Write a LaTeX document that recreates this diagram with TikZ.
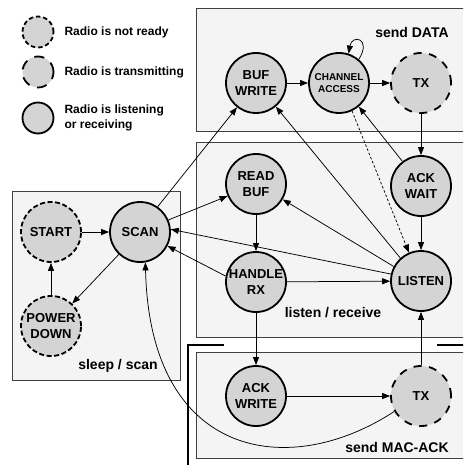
\documentclass[tikz,border=0pt]{standalone}
\usepackage{fontspec}
\setmainfont{Liberation Sans}
\usetikzlibrary{arrows.meta}
\definecolor{nodefill}{gray}{0.83}
\definecolor{boxfill}{gray}{0.955}
\definecolor{boxline}{gray}{0.25}

\begin{document}
\begin{tikzpicture}[x=1pt,y=-1pt,
  state/.style={circle, fill=nodefill, minimum size=60pt, inner sep=0pt,
    draw=black, line width=1.8pt, align=center,
    font=\bfseries\fontsize{13}{15.5}\selectfont},
  listening/.style={state},
  notready/.style={state, dash pattern=on 5pt off 2.6pt},
  transmit/.style={state, dash pattern=on 8pt off 7.5pt},
  smallstate/.style={minimum size=31pt},
  region/.style={draw=boxline, fill=boxfill, line width=0.8pt},
  regionlabel/.style={font=\bfseries\fontsize{14}{16}\selectfont},
  legendtext/.style={font=\bfseries\fontsize{12}{14.5}\selectfont, align=left, anchor=west},
  edge/.style={-{Triangle[length=8pt,width=6pt]}, line width=0.75pt},
]
\useasboundingbox (0,0) rectangle (463,465);
\clip (0,0) rectangle (463,465);

% regions
\path[region] (196,8) rectangle (470,131);
\path[region] (196,142) rectangle (470,337);
\path[region] (12,191) rectangle (180,380);
\path[region] (196,352) rectangle (470,458);
\draw[line width=2pt] (224,345) -- (188,345) -- (188,470);
\draw[line width=2pt] (437,345) -- (470,345);

% legend
\node[notready, smallstate, dash pattern=on 4.5pt off 2.8pt] (lg1) at (38,32) {};
\node[transmit, smallstate, dash pattern=on 10pt off 8pt] (lg2) at (38,72) {};
\node[listening, smallstate] (lg3) at (38,118) {};
\node[legendtext] (lt1) at (61,32) {Radio is not ready};
\node[legendtext] (lt2) at (61,72) {Radio is transmitting};
\node[legendtext] (lt3) at (61,118) {Radio is listening\\or receiving};

% states
\node[listening] (bw) at (256,83) {BUF\\WRITE};
\node[listening, font=\bfseries\fontsize{10}{12.5}\selectfont] (ca) at (339,83) {CHANNEL\\ACCESS};
\node[transmit] (txd) at (421,83) {TX};
\node[listening] (rb) at (256,184) {READ\\BUF};
\node[listening] (aw) at (421,186) {ACK\\WAIT};
\node[listening] (hr) at (256,282) {HANDLE\\RX};
\node[listening] (li) at (421,281) {LISTEN};
\node[notready] (st) at (51,232) {START};
\node[listening] (sc) at (140,232) {SCAN};
\node[notready] (pd) at (51,326) {POWER\\DOWN};
\node[listening] (ackw) at (256,396) {ACK\\WRITE};
\node[transmit] (txa) at (421,396) {TX};

% region labels
\node[regionlabel] (lbdata) at (412,32) {send DATA};
\node[regionlabel] (lbrecv) at (333,313) {listen / receive};
\node[regionlabel] (lbsleep) at (118,366) {sleep / scan};
\node[regionlabel] (lback) at (397,447) {send MAC-ACK};

% transitions
\draw[edge] (st) -- (sc);
\draw[edge] (pd) -- (st);
\draw[edge] (sc) -- (pd);
\draw[edge] (sc.55) -- (bw.232);
\draw[edge] (sc.23) -- (rb.203);
\draw[edge] (li.167) -- (sc.5);
\draw[edge] (hr.169) -- (sc.-27);
\draw[edge] (rb) -- (hr);
\draw[edge] (hr) -- (li);
\draw[edge] (li.152) -- (rb.-30);
\draw[edge] (li.132) -- (bw.-50);
\draw[edge] (aw.127) -- (ca.-50);
\draw[edge, dash pattern=on 2.5pt off 2pt] (ca.-65) -- (li.113);
\draw[edge] (bw) -- (ca);
\draw[edge] (ca) -- (txd);
\draw[edge] (txd) -- (aw);
\draw[edge] (aw) -- (li);
\draw[edge] (hr) -- (ackw);
\draw[edge] (ackw) -- (txa);
\draw[edge] (txa) -- (li);
\draw[edge] (txa.210) .. controls (290,480) and (150,460) .. (sc.-80);
\draw[edge] (ca.50) .. controls (372,38) and (352,34) .. (ca.72);
\end{tikzpicture}
\end{document}
